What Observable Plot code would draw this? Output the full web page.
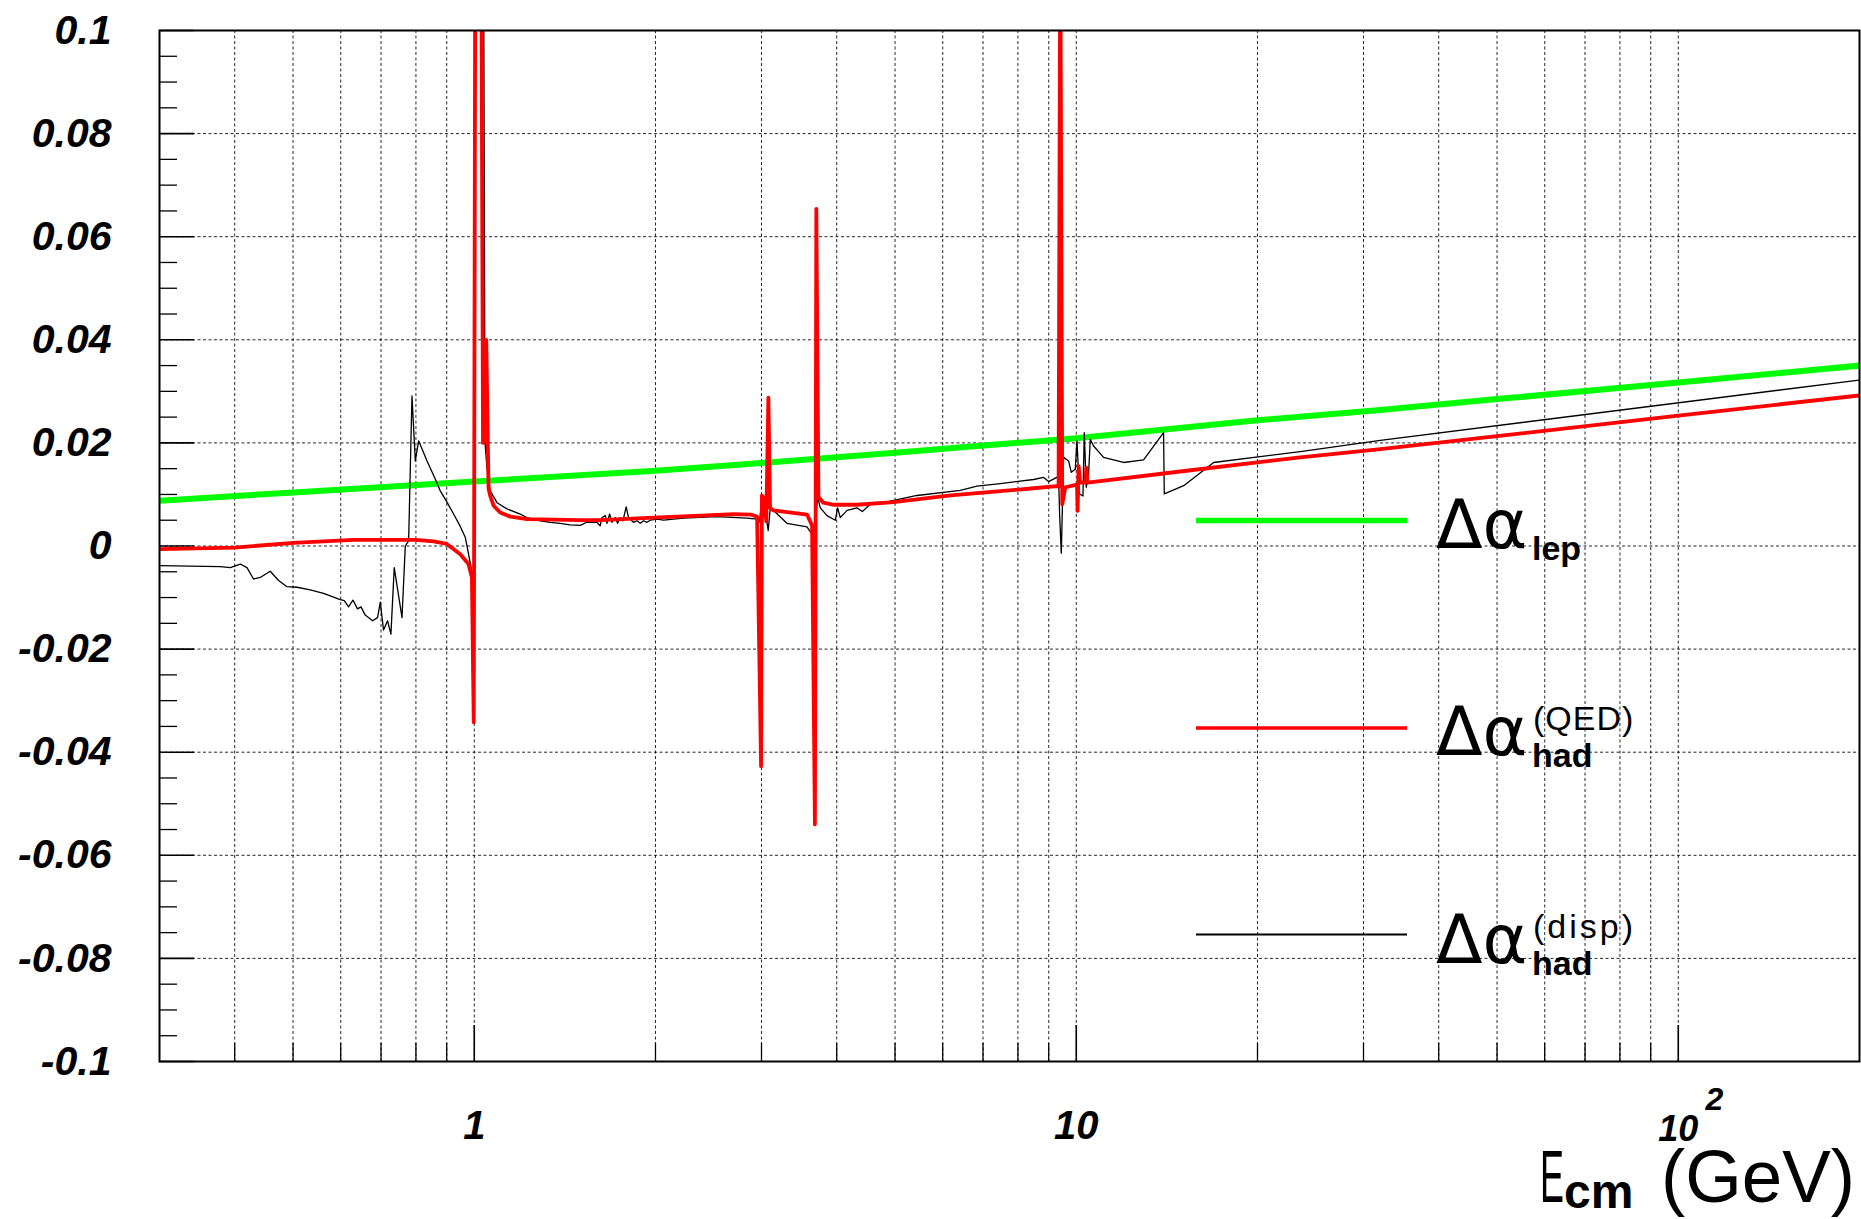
<!DOCTYPE html>
<html><head><meta charset="utf-8">
<script src="https://cdn.jsdelivr.net/npm/d3@7"></script>
<script src="https://cdn.jsdelivr.net/npm/@observablehq/plot@0.6"></script>
<style>
html,body{margin:0;padding:0;background:#fff;}
#chart svg{display:block;}
</style></head><body><div id="chart"></div>
<script>
// ---- Data (E in GeV, value) ----
const lepE = [0.3, 0.5, 1, 2, 3, 5, 7, 10, 20, 32, 50, 100, 200];
const lepV = [0.0088, 0.0104, 0.0125, 0.0146, 0.0161, 0.0181, 0.0195, 0.0209, 0.0244, 0.0264, 0.0285, 0.0317, 0.0350];

const qedE = [0.3, 0.4, 0.5, 0.63, 0.8, 0.856, 0.90, 0.948, 0.978, 0.991, 0.998, 1.004, 1.027, 1.034, 1.047, 1.056, 1.063, 1.077, 1.104, 1.148, 1.224, 1.5, 1.62, 1.985, 2.373, 2.70, 2.877, 2.950, 2.995, 3.005, 3.02, 3.055, 3.08, 3.10, 3.14, 3.57, 3.64, 3.68, 3.70, 3.73, 3.80, 3.96, 4.32, 4.97, 6.18, 8.49, 9.28, 9.346, 9.406, 9.478, 9.588, 10.03, 10.05, 10.09, 10.15, 10.35, 10.39, 10.44, 15, 23.55, 32, 50, 100, 200];
const qedV = [-0.0006, -0.0003, 0.0006, 0.0012, 0.0012, 0.0009, 0.0004, -0.0016, -0.0035, -0.0061, -0.0342, 0.12, 0.12, 0.020, 0.040, 0.0112, 0.0097, 0.0078, 0.0065, 0.0057, 0.0052, 0.0050, 0.0050, 0.0055, 0.0059, 0.0062, 0.0061, 0.0057, -0.0427, 0.0098, 0.0095, 0.0048, 0.0288, 0.0074, 0.0069, 0.0061, 0.0040, -0.054, 0.0654, 0.0095, 0.0084, 0.0080, 0.0080, 0.0085, 0.0098, 0.0112, 0.0116, 0.0115, 0.12, 0.0081, 0.0114, 0.0119, 0.0068, 0.0155, 0.0123, 0.0123, 0.0152, 0.0123, 0.0145, 0.0172, 0.0188, 0.0213, 0.0253, 0.0292];

const dispE = [0.3, 0.3786, 0.3933, 0.4087, 0.4192, 0.4299, 0.4410, 0.4582, 0.4731, 0.4886,
  0.5076, 0.5340, 0.5619, 0.5989, 0.6082, 0.6182, 0.6287, 0.6398, 0.6483, 0.6590,
  0.6777, 0.6908, 0.6980, 0.7067, 0.7177, 0.7270, 0.7363, 0.7585, 0.7681, 0.7780,
  0.7880, 0.7981, 0.8083, 0.8347, 0.8614, 0.8779, 0.9009, 0.9240, 0.9478, 0.9661,
  0.9784, 0.9912, 0.999, 1.005, 1.036, 1.042, 1.050, 1.063, 1.091, 1.133,
  1.192, 1.223, 1.287, 1.337, 1.389, 1.443, 1.500, 1.538, 1.598, 1.6185,
  1.630, 1.651, 1.661, 1.678, 1.693, 1.715, 1.730, 1.748, 1.766, 1.788,
  1.804, 1.839, 1.863, 1.887, 1.911, 1.936, 1.961, 2.012, 2.063, 2.227,
  2.531, 2.838, 2.949, 2.978, 3.005, 3.045, 3.078, 3.102, 3.141, 3.307,
  3.570, 3.639, 3.661, 3.718, 3.757, 3.854, 3.979, 4.014, 4.055, 4.161,
  4.323, 4.412, 4.549, 4.786, 5.437, 6.418, 6.839, 7.478, 8.495, 8.826,
  8.995, 9.346, 9.383, 9.443, 9.527, 9.711, 9.811, 9.962, 10.026, 10.127,
  10.259, 10.311, 10.390, 10.482, 10.551, 10.684, 11.100, 11.983, 12.937, 13.964,
  14.002, 15.08, 16.91, 23.56, 31.99, 200];
const dispV = [-0.0038, -0.0040, -0.0042, -0.0035, -0.0042, -0.0064, -0.0061, -0.0049, -0.0067, -0.0079,
  -0.0080, -0.0085, -0.0092, -0.0104, -0.0106, -0.0118, -0.0105, -0.0122, -0.0118, -0.0134,
  -0.0145, -0.0139, -0.0109, -0.0163, -0.0145, -0.0171, -0.0042, -0.0139, 0.0000, 0.0010,
  0.0291, 0.0165, 0.0204, 0.0165, 0.0130, 0.0107, 0.0085, 0.0062, 0.0038, 0.0017,
  -0.0016, -0.0051, -0.0070, 0.12, 0.12, 0.020, 0.0150, 0.0107, 0.0084, 0.0072,
  0.0062, 0.0055, 0.0049, 0.0046, 0.0044, 0.0041, 0.0040, 0.0046, 0.0046, 0.0039,
  0.0055, 0.0059, 0.0044, 0.0062, 0.0046, 0.0055, 0.0044, 0.0055, 0.0049, 0.0076,
  0.0055, 0.0046, 0.0049, 0.0044, 0.0049, 0.0046, 0.0050, 0.0052, 0.0050, 0.0054,
  0.0057, 0.0054, 0.0052, 0.0047, 0.0098, 0.0067, 0.0030, 0.0074, 0.0069, 0.0044,
  0.0037, 0.0023, 0.0005, 0.0095, 0.0074, 0.0059, 0.0050, 0.0074, 0.0055, 0.0069,
  0.0074, 0.0067, 0.0081, 0.0084, 0.0098, 0.0108, 0.0116, 0.0121, 0.0129, 0.0133,
  0.0125, 0.0135, 0.0061, -0.0014, 0.0172, 0.0165, 0.0143, 0.0149, 0.0204, 0.0101,
  0.0097, 0.0220, 0.0114, 0.0140, 0.0207, 0.0194, 0.0172, 0.0162, 0.0167, 0.0220,
  0.0101, 0.0117, 0.0162, 0.0183, 0.0205, 0.0322];

// ---- Ticks ----
const yMajor = [-0.1, -0.08, -0.06, -0.04, -0.02, 0, 0.02, 0.04, 0.06, 0.08, 0.1];
const yLabels = ["-0.1", "-0.08", "-0.06", "-0.04", "-0.02", "0", "0.02", "0.04", "0.06", "0.08", "0.1"];
const yMinor = [-0.095, -0.09, -0.085, -0.075, -0.07, -0.065, -0.055, -0.05, -0.045, -0.035, -0.03, -0.025, -0.015, -0.01, -0.005, 0.005, 0.01, 0.015, 0.025, 0.03, 0.035, 0.045, 0.05, 0.055, 0.065, 0.07, 0.075, 0.085, 0.09, 0.095];
const xMajor = [1, 10, 100];
const xMinor = [0.4, 0.5, 0.6, 0.7, 0.8, 0.9, 2, 3, 4, 5, 6, 7, 8, 9, 20, 30, 40, 50, 60, 70, 80, 90];
const xLabelVals = [1, 10];
const xLabels = ["1", "10"];
const xPowLabel = [{value: 100, base: "10", exp: "2"}];

// ---- Legend ----
const legendNames = ["lep", "had", "had"];
const legendSup = [null, "(QED)", "(disp)"];
const legendColors = ["#00ff00", "#ff0000", "#000000"];

const toRows = (E, V) => E.map((e, i) => ({e, v: V[i]}));
const lep = toRows(lepE, lepV), qed = toRows(qedE, qedV), disp = toRows(dispE, dispV);
const yLab = new Map(yMajor.map((v, i) => [v, yLabels[i]]));
const xLab = new Map(xLabelVals.map((v, i) => [v, xLabels[i]]));
const xGrid = [...xMinor, ...xMajor];

const tickFont = {fontWeight: "bold", fontStyle: "italic"};

const plot = Plot.plot({
  width: 1861, height: 1219,
  marginLeft: 159, marginRight: 2, marginTop: 30, marginBottom: 158,
  x: {type: "log", domain: [0.3, 200]},
  y: {domain: [-0.1, 0.1]},
  style: {fontFamily: "'Liberation Sans', Arial, Helvetica, sans-serif", background: "#fff", color: "#000", fontSize: "40px"},
  marks: [
    Plot.gridX(xGrid, {stroke: "#000", strokeOpacity: 0.85, strokeWidth: 1, strokeDasharray: "3,2.5"}),
    Plot.gridY(yMajor, {stroke: "#000", strokeOpacity: 0.85, strokeWidth: 1, strokeDasharray: "3,2.5"}),
    Plot.axisY({ticks: yMinor, tickSize: 18, dx: 18, tickFormat: () => "", fill: "none", label: null, strokeWidth: 1.3}),
    Plot.axisY({ticks: yMajor, tickSize: 35, dx: 35, tickFormat: () => "", fill: "none", label: null, strokeWidth: 1.6}),
    Plot.axisY({ticks: yMajor, tickSize: 0, tickPadding: 48, tickFormat: d => yLab.get(d), fontSize: 41, ...tickFont, label: null}),
    Plot.axisX({ticks: xMinor, tickSize: 18, dy: -18, tickFormat: () => "", fill: "none", label: null, strokeWidth: 1.3}),
    Plot.axisX({ticks: xMajor, tickSize: 36, dy: -36, tickFormat: () => "", fill: "none", label: null, strokeWidth: 1.6}),
    Plot.axisX({ticks: xLabelVals, tickSize: 0, tickPadding: 49, tickFormat: d => xLab.get(d), fontSize: 40, ...tickFont, label: null}),
    Plot.text(xPowLabel, {x: "value", text: "base", frameAnchor: "bottom", lineAnchor: "top", dy: 54, fontSize: 36, ...tickFont}),
    Plot.text(xPowLabel, {x: "value", text: "exp", frameAnchor: "bottom", lineAnchor: "top", dy: 26, dx: 36, fontSize: 32, ...tickFont}),
    Plot.line(lep, {x: "e", y: "v", stroke: legendColors[0], strokeWidth: 6, clip: true}),
    Plot.line(disp, {x: "e", y: "v", stroke: legendColors[2], strokeWidth: 1.3, clip: true}),
    Plot.line(qed, {x: "e", y: "v", stroke: legendColors[1], strokeWidth: 3.8, clip: true}),
    Plot.frame({stroke: "#000", strokeWidth: 2})
  ]
});
document.getElementById("chart").appendChild(plot);

// ---- Legend and axis title (layout, added into the SVG) ----
const svg = d3.select(plot);
const g = svg.append("g").attr("class", "legend").attr("text-anchor", "start");
const rowBase = [548, 755, 963];
const lineY = [520.5, 728, 934.5];
const lineW = [5.5, 3.5, 2];
legendNames.forEach((name, i) => {
  g.append("line").attr("x1", 1196).attr("x2", 1407).attr("y1", lineY[i]).attr("y2", lineY[i])
    .attr("stroke", legendColors[i]).attr("stroke-width", lineW[i]);
  const b = rowBase[i];
  g.append("text").attr("x", 1436).attr("y", b).attr("font-family", "'DejaVu Sans', sans-serif")
    .attr("font-size", 68).attr("fill", "#000").text("Δα");
  if (legendSup[i]) {
    g.append("text").attr("x", 1533).attr("y", b - 25).attr("font-size", 34).attr("fill", "#000")
      .attr("letter-spacing", i === 2 ? 3 : 1).text(legendSup[i]);
  }
  g.append("text").attr("x", 1532).attr("y", b + 12).attr("font-size", 34).attr("font-weight", "bold")
    .attr("fill", "#000").text(name);
});
const t = svg.append("g").attr("class", "x-title").attr("fill", "#000").attr("text-anchor", "start");
t.append("text").attr("x", 1540).attr("y", 1202).attr("font-size", 75)
  .attr("textLength", 24).attr("lengthAdjust", "spacingAndGlyphs").text("E");
t.append("text").attr("x", 1564).attr("y", 1208).attr("font-size", 48).attr("font-weight", "bold").text("cm");
t.append("text").attr("x", 1661).attr("y", 1202).attr("font-size", 75)
  .attr("textLength", 194).attr("lengthAdjust", "spacingAndGlyphs").text("(GeV)");
</script>
</body></html>
